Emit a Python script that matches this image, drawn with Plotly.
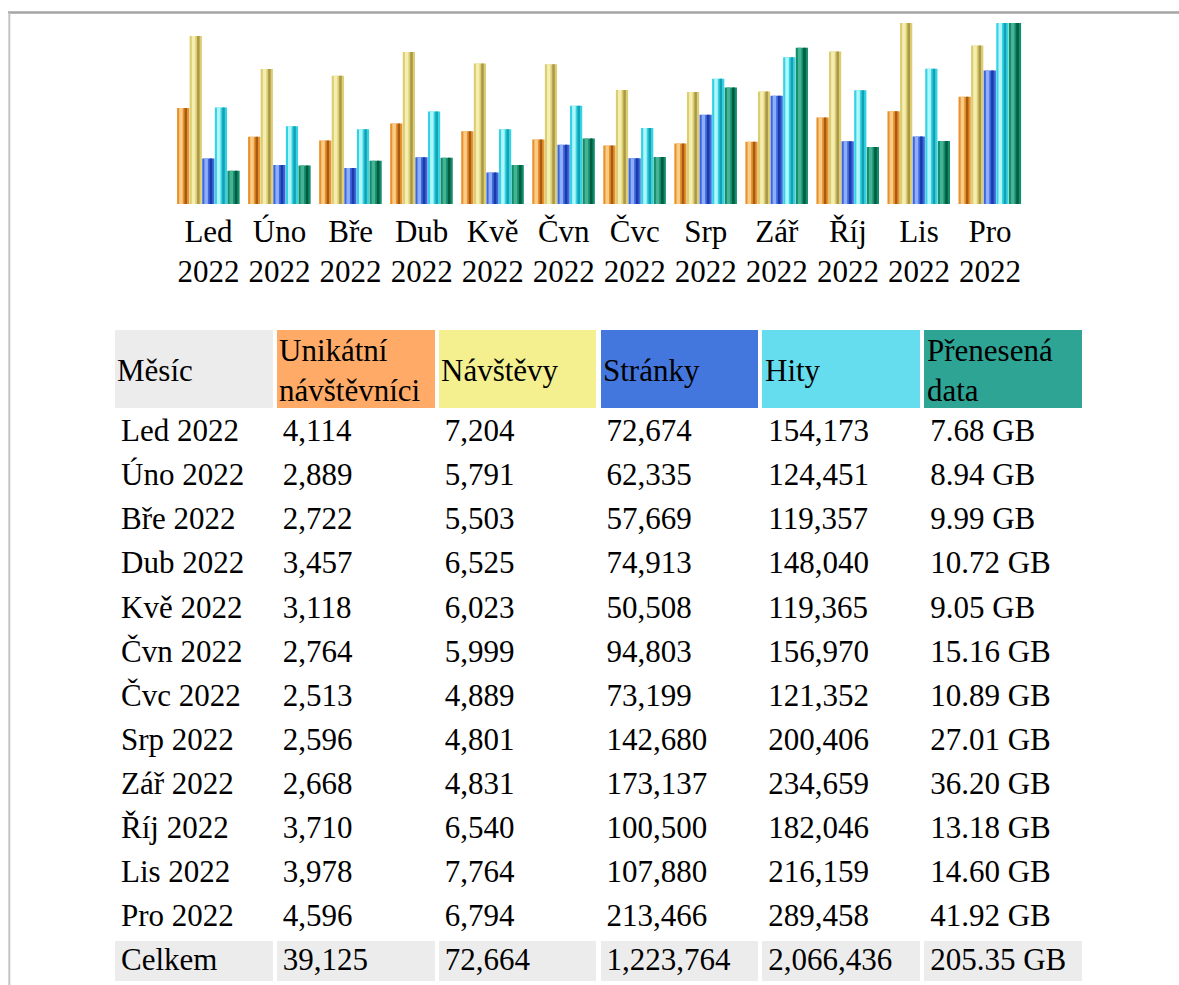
import plotly.graph_objects as go

# ---- data ----
month_abbr = ["Led", "Úno", "Bře", "Dub", "Kvě", "Čvn", "Čvc", "Srp", "Zář", "Říj", "Lis", "Pro"]
year = "2022"
unique_visitors = [4114, 2889, 2722, 3457, 3118, 2764, 2513, 2596, 2668, 3710, 3978, 4596]
visits = [7204, 5791, 5503, 6525, 6023, 5999, 4889, 4801, 4831, 6540, 7764, 6794]
pages = [72674, 62335, 57669, 74913, 50508, 94803, 73199, 142680, 173137, 100500, 107880, 213466]
hits = [154173, 124451, 119357, 148040, 119365, 156970, 121352, 200406, 234659, 182046, 216159, 289458]
data_gb = [7.68, 8.94, 9.99, 10.72, 9.05, 15.16, 10.89, 27.01, 36.20, 13.18, 14.60, 41.92]
totals = ["Celkem", "39,125", "72,664", "1,223,764", "2,066,436", "205.35 GB"]
headers = ["Měsíc", "Unikátní<br>návštěvníci", "Návštěvy", "Stránky", "Hity", "Přenesená<br>data"]

# ---- geometry (body margin removed, so figure == page) ----
W, H = 1179, 985
FONT = "Liberation Serif"


def px_x(page_x):
    return page_x / W


def px_y(page_y):
    return 1 - page_y / H


cats = [f"{m}<br>{year}" for m in month_abbr]

series = [
    (unique_visitors, "y", ("#e8922e", "#f9cc88", "#a65a12"), "Unikátní návštěvníci"),
    (visits, "y", ("#dccd72", "#f4eeb0", "#a8984a"), "Návštěvy"),
    (pages, "y2", ("#3c66dc", "#8eaefa", "#1c3aa8"), "Stránky"),
    (hits, "y2", ("#34d2e2", "#b0f6fb", "#12a0b2"), "Hity"),
    (data_gb, "y3", ("#128c6a", "#45b394", "#005c40"), "Přenesená data"),
]

pitch = 0.1772
bar_w = 0.172
start = -0.443

fig = go.Figure()
for i, (vals, ax, (base, light, dark), name) in enumerate(series):
    off = start + i * pitch
    fig.add_trace(go.Bar(x=cats, y=vals, yaxis=ax, name=name, marker_color=base,
                         marker_line_width=0, offset=off, width=bar_w, showlegend=False))
    fig.add_trace(go.Bar(x=cats, y=vals, yaxis=ax, name=name, marker_color=light,
                         marker_line_width=0, offset=off + 0.03, width=0.05,
                         showlegend=False, hoverinfo="skip"))
    fig.add_trace(go.Bar(x=cats, y=vals, yaxis=ax, name=name, marker_color=dark,
                         marker_line_width=0, offset=off + 0.105, width=0.035,
                         showlegend=False, hoverinfo="skip"))

# ---- table ----
month_rows = [f"{m} {year}" for m in month_abbr]
col_month = month_rows + [totals[0]]
col_u = [f"{v:,}" for v in unique_visitors] + [totals[1]]
col_v = [f"{v:,}" for v in visits] + [totals[2]]
col_p = [f"{v:,}" for v in pages] + [totals[3]]
col_h = [f"{v:,}" for v in hits] + [totals[4]]
col_d = [f"{v:.2f} GB" for v in data_gb] + [totals[5]]

n_rows = len(col_month)
row_fill = ["#ffffff"] * (n_rows - 1) + ["#ececec"]
header_fill = ["#ececec", "#ffaa66", "#f4f090", "#4477dd", "#66ddee", "#2ea495"]

tbl_left, tbl_right = 113, 1085
fig.add_trace(go.Table(
    domain=dict(x=[px_x(tbl_left), px_x(tbl_right)], y=[0, px_y(328)]),
    columnwidth=[1, 1, 1, 1, 1, 1],
    header=dict(values=[""] * len(headers), fill_color=header_fill, align="left",
                line=dict(color="white", width=4), height=82,
                font=dict(family=FONT, size=31, color="black")),
    cells=dict(values=[col_month, col_u, col_v, col_p, col_h, col_d],
               fill_color=[row_fill] * 6, align="left",
               line=dict(color="white", width=4), height=44.08,
               font=dict(family=FONT, size=31, color="black")),
))

# header labels (vertically centred in the header row)
col_w = (tbl_right - tbl_left) / len(headers)
annotations = []
for j, label in enumerate(headers):
    annotations.append(dict(
        text=label, xref="paper", yref="paper",
        x=px_x(tbl_left + j * col_w + 3), y=px_y(370),
        xanchor="left", yanchor="middle", align="left", showarrow=False,
        font=dict(family=FONT, size=31, color="black"), borderpad=0,
    ))

fig.update_layout(
    width=W, height=H,
    margin=dict(l=0, r=0, t=0, b=0),
    paper_bgcolor="white", plot_bgcolor="white",
    barmode="overlay",
    showlegend=False,
    xaxis=dict(domain=[px_x(173), px_x(1025.5)], range=[-0.5, 11.5],
               showgrid=False, zeroline=False, showline=False, ticks="",
               tickfont=dict(family=FONT, size=31, color="black"),
               ticklabelstandoff=6, fixedrange=True),
    yaxis=dict(domain=[px_y(204), px_y(23)], range=[0, max(visits)], visible=False),
    yaxis2=dict(overlaying="y", range=[0, max(hits)], visible=False),
    yaxis3=dict(overlaying="y", range=[0, max(data_gb)], visible=False),
    annotations=annotations,
    shapes=[
        dict(type="line", xref="paper", yref="paper", x0=px_x(8), x1=1,
             y0=px_y(12.5), y1=px_y(12.5), line=dict(color="#a4a4a4", width=2.5)),
        dict(type="line", xref="paper", yref="paper", x0=px_x(9.3), x1=px_x(9.3),
             y0=px_y(12.5), y1=0, line=dict(color="#c4c4c4", width=2)),
    ],
)

fig.write_html("out.html", post_script="document.body.style.margin='0';",
               config={"displayModeBar": False})
